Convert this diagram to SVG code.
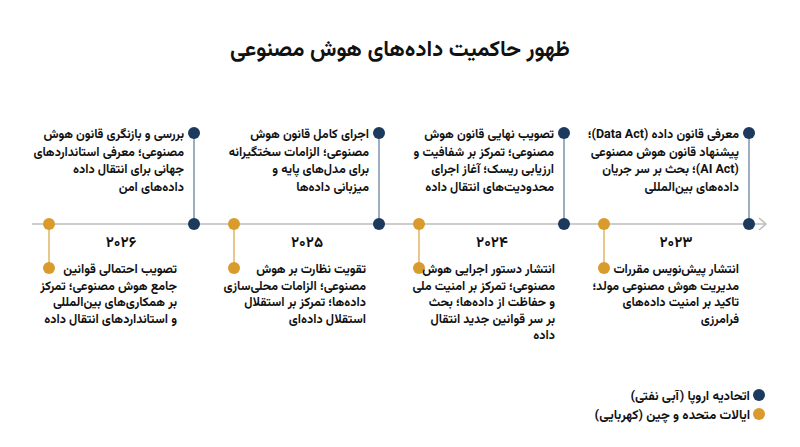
<svg xmlns="http://www.w3.org/2000/svg" width="800" height="447" viewBox="0 0 800 447">
<style>
text{font-family:"Vazirmatn","DejaVu Sans Condensed","DejaVu Sans",sans-serif;fill:#111;}
.t{font-size:12.5px;font-weight:bold;direction:rtl;text-anchor:start;}
.yr{font-size:15px;font-weight:bold;text-anchor:middle;}
.title{font-size:22px;font-weight:bold;text-anchor:middle;direction:rtl;}
.lg{font-size:13px;font-weight:bold;direction:rtl;text-anchor:start;}
.b{fill:#1b3a5e;}
.o{fill:#d99b2b;}
.bl{stroke:#7f93a8;stroke-width:1.5;}
.ol{stroke:#e2b462;stroke-width:1.5;}
</style>
<rect width="800" height="447" fill="#fff"/>
<text class="title" x="400" y="56">ظهور حاکمیت داده‌های هوش مصنوعی</text>
<g id="connectors">
<line x1="32" y1="224" x2="766" y2="224" stroke="#bdbdbd" stroke-width="1.5"/>
<polyline points="759,218 766,224 759,230" fill="none" stroke="#bdbdbd" stroke-width="1.5"/>
<line class="bl" x1="194" y1="133" x2="194" y2="224"/>
<line class="bl" x1="379" y1="133" x2="379" y2="224"/>
<line class="bl" x1="564" y1="133" x2="564" y2="224"/>
<line class="bl" x1="749" y1="133" x2="749" y2="224"/>
<line class="ol" x1="49" y1="224" x2="49" y2="268"/>
<line class="ol" x1="234" y1="224" x2="234" y2="268"/>
<line class="ol" x1="419" y1="224" x2="419" y2="268"/>
<line class="ol" x1="604" y1="224" x2="604" y2="268"/>
</g>
<g id="eu2026">
<circle class="b" cx="194" cy="133" r="6"/><circle class="b" cx="194" cy="224" r="6"/>
<text class="t" x="184" y="138">بررسی و بازنگری قانون هوش</text>
<text class="t" x="184" y="155.5">مصنوعی؛ معرفی استانداردهای</text>
<text class="t" x="184" y="173">جهانی برای انتقال داده</text>
<text class="t" x="184" y="190.5">داده‌های امن</text>
</g>
<g id="eu2025">
<circle class="b" cx="379" cy="133" r="6"/><circle class="b" cx="379" cy="224" r="6"/>
<text class="t" x="369" y="138">اجرای کامل قانون هوش</text>
<text class="t" x="369" y="155.5">مصنوعی؛ الزامات سختگیرانه</text>
<text class="t" x="369" y="173">برای مدل‌های پایه و</text>
<text class="t" x="369" y="190.5">میزبانی داده‌ها</text>
</g>
<g id="eu2024">
<circle class="b" cx="564" cy="133" r="6"/><circle class="b" cx="564" cy="224" r="6"/>
<text class="t" x="554" y="138">تصویب نهایی قانون هوش</text>
<text class="t" x="554" y="155.5">مصنوعی؛ تمرکز بر شفافیت و</text>
<text class="t" x="554" y="173">ارزیابی ریسک؛ آغاز اجرای</text>
<text class="t" x="554" y="190.5">محدودیت‌های انتقال داده</text>
</g>
<g id="eu2023">
<circle class="b" cx="749" cy="133" r="6"/><circle class="b" cx="749" cy="224" r="6"/>
<text class="t" x="739" y="138">معرفی قانون داده (Data Act)؛</text>
<text class="t" x="739" y="155.5">پیشنهاد قانون هوش مصنوعی</text>
<text class="t" x="739" y="173">(AI Act)؛ بحث بر سر جریان</text>
<text class="t" x="739" y="190.5">داده‌های بین‌المللی</text>
</g>
<g id="us2026">
<circle class="o" cx="49" cy="224" r="6"/><circle class="o" cx="49" cy="268" r="6"/>
<text class="yr" x="121" y="247">۲۰۲۶</text>
<text class="t" x="177" y="273">تصویب احتمالی قوانین</text>
<text class="t" x="177" y="289.5">جامع هوش مصنوعی؛ تمرکز</text>
<text class="t" x="177" y="306">بر همکاری‌های بین‌المللی</text>
<text class="t" x="177" y="322.5">و استانداردهای انتقال داده</text>
</g>
<g id="us2025">
<circle class="o" cx="234" cy="224" r="6"/><circle class="o" cx="234" cy="268" r="6"/>
<text class="yr" x="307" y="247">۲۰۲۵</text>
<text class="t" x="366" y="273">تقویت نظارت بر هوش</text>
<text class="t" x="366" y="289.5">مصنوعی؛ الزامات محلی‌سازی</text>
<text class="t" x="366" y="306">داده‌ها؛ تمرکز بر استقلال</text>
<text class="t" x="366" y="322.5">استقلال داده‌ای</text>
</g>
<g id="us2024">
<circle class="o" cx="419" cy="224" r="6"/><circle class="o" cx="419" cy="268" r="6"/>
<text class="yr" x="492" y="247">۲۰۲۴</text>
<text class="t" x="555" y="273">انتشار دستور اجرایی هوش</text>
<text class="t" x="555" y="289.5">مصنوعی؛ تمرکز بر امنیت ملی</text>
<text class="t" x="555" y="306">و حفاظت از داده‌ها؛ بحث</text>
<text class="t" x="555" y="322.5">بر سر قوانین جدید انتقال</text>
<text class="t" x="555" y="339">داده</text>
</g>
<g id="us2023">
<circle class="o" cx="604" cy="224" r="6"/><circle class="o" cx="604" cy="268" r="6"/>
<text class="yr" x="676" y="247">۲۰۲۳</text>
<text class="t" x="739" y="273">انتشار پیش‌نویس مقررات</text>
<text class="t" x="739" y="289.5">مدیریت هوش مصنوعی مولد؛</text>
<text class="t" x="739" y="306">تاکید بر امنیت داده‌های</text>
<text class="t" x="739" y="322.5">فرامرزی</text>
</g>
<g id="legend">
<circle class="b" cx="759" cy="395" r="6"/>
<text class="lg" x="750" y="400">اتحادیه اروپا (آبی نفتی)</text>
<circle class="o" cx="759" cy="414" r="6"/>
<text class="lg" x="750" y="419">ایالات متحده و چین (کهربایی)</text>
</g>
</svg>
